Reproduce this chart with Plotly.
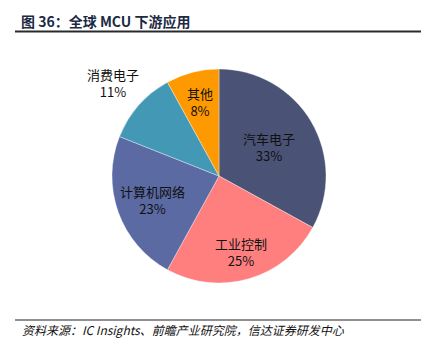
import math
import plotly.graph_objects as go

# Data
categories = ["汽车电子", "工业控制", "计算机网络", "消费电子", "其他"]
shares = [33, 25, 23, 11, 8]

# Style
colors = ["#4a5275", "#ff7f7f", "#5b6aa3", "#4398b6", "#fe9a00"]
label_radius_frac = [0.54, 0.74, 0.66, 1.32, 0.71]  # label distance from centre, as a fraction of radius

title_text = "图 36：全球 MCU 下游应用"
source_text = "资料来源：IC Insights、前瞻产业研究院，信达证券研发中心"

W, H = 427, 354
CJK = "Noto Sans CJK SC, Noto Sans, sans-serif"

def px_x(x):
    return x / W

def px_y(y):
    return 1 - y / H

# pie placement (pixels)
cx, cy, R = 219, 176, 107

fig = go.Figure()
fig.add_trace(go.Pie(
    labels=categories,
    values=shares,
    sort=False,
    direction="clockwise",
    rotation=0,
    marker=dict(colors=colors, line=dict(color="rgba(255,255,255,0.6)", width=0.6)),
    textinfo="none",
    showlegend=False,
    hoverinfo="label+percent",
    domain=dict(x=[px_x(cx - R), px_x(cx + R)], y=[px_y(cy + R), px_y(cy - R)]),
))

# slice labels, placed at each slice's mid-angle computed from the shares
annotations = []
total = sum(shares)
cum = 0.0
for cat, val, frac in zip(categories, shares, label_radius_frac):
    mid = (cum + val / 2) / total * 2 * math.pi
    cum += val
    lx = cx + frac * R * math.sin(mid)
    ly = cy - frac * R * math.cos(mid)
    annotations.append(dict(
        text=f"{cat}<br>{val}%", x=px_x(lx), y=px_y(ly), xref="paper", yref="paper",
        xanchor="center", yanchor="middle", showarrow=False, align="center",
        font=dict(family=CJK, size=13, color="#111111"),
    ))

annotations += [
    dict(text="<b>" + title_text + "</b>", x=px_x(19), y=px_y(21), xref="paper", yref="paper",
         xanchor="left", yanchor="middle", showarrow=False,
         font=dict(family=CJK, size=14, color="#1c2a44")),
    dict(text="<i>" + source_text + "</i>", x=px_x(20), y=px_y(329), xref="paper", yref="paper",
         xanchor="left", yanchor="middle", showarrow=False,
         font=dict(family=CJK, size=12, color="#111111")),
]

fig.update_layout(
    width=W, height=H,
    margin=dict(l=0, r=0, t=0, b=0),
    paper_bgcolor="white",
    plot_bgcolor="white",
    annotations=annotations,
    shapes=[
        dict(type="line", xref="paper", yref="paper", x0=px_x(15), x1=px_x(421),
             y0=px_y(31.5), y1=px_y(31.5), line=dict(color="#2a2a2a", width=2)),
        dict(type="line", xref="paper", yref="paper", x0=px_x(15), x1=px_x(421),
             y0=px_y(320), y1=px_y(320), line=dict(color="#222222", width=1)),
    ],
)

fig.write_html("out.html")
